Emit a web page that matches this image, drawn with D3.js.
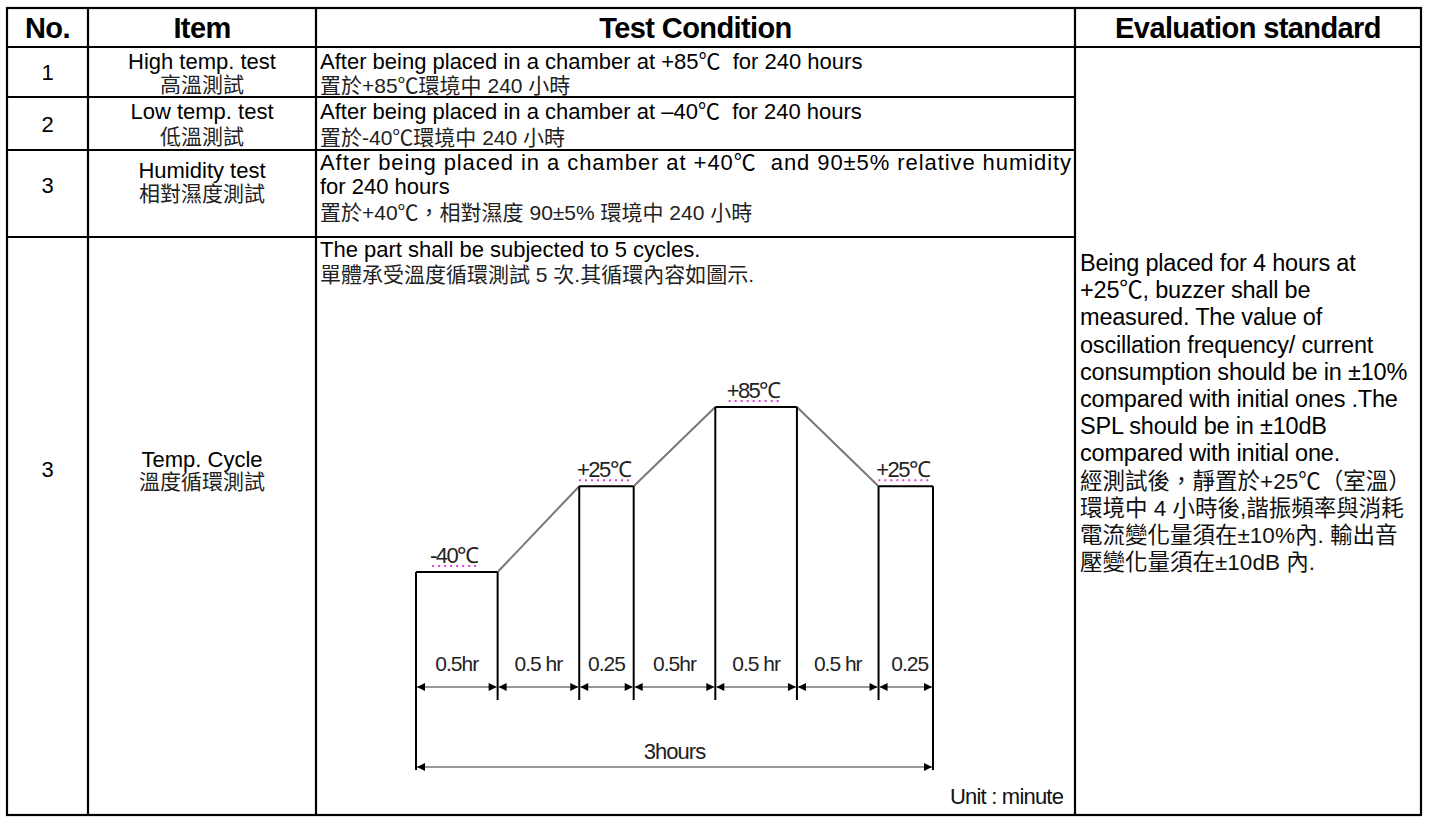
<!DOCTYPE html>
<html>
<head>
<meta charset="utf-8">
<script src="https://cdn.jsdelivr.net/npm/d3@7"></script>
<style>
  html, body { margin: 0; padding: 0; background: #fff; }
  svg { display: block; }
  text { white-space: pre; }
</style>
</head>
<body>
<svg id="chart" width="1431" height="820"></svg>
<script>
// ---------------- data ----------------
const headers = ["No.", "Item", "Test Condition", "Evaluation standard"];
const rowNumbers = ["1", "2", "3", "3"];
const itemNamesEn = ["High temp. test", "Low temp. test", "Humidity test", "Temp. Cycle"];
const itemNamesZh = ["高溫測試", "低溫測試", "相對濕度測試", "溫度循環測試"];
const conditionRow1 = ["After being placed in a chamber at +85℃  for 240 hours", "置於+85℃環境中 240 小時"];
const conditionRow2 = ["After being placed in a chamber at –40℃  for 240 hours", "置於-40℃環境中 240 小時"];
const conditionRow3 = ["After being placed in a chamber at +40℃  and 90±5% relative humidity", "for 240 hours", "置於+40℃，相對濕度 90±5% 環境中 240 小時"];
const conditionRow4 = ["The part shall be subjected to 5 cycles.", "單體承受溫度循環測試 5 次.其循環內容如圖示."];
const evaluationLines = [
  "Being placed for 4 hours at",
  "+25℃, buzzer shall be",
  "measured. The value of",
  "oscillation frequency/ current",
  "consumption should be in ±10%",
  "compared with initial ones .The",
  "SPL should be in ±10dB",
  "compared with initial one.",
  "經測試後，靜置於+25℃（室溫）",
  "環境中 4 小時後,諧振頻率與消耗",
  "電流變化量須在±10%內. 輸出音",
  "壓變化量須在±10dB 內."
];
// temperature cycle phases
const phaseMinutes = [30, 30, 15, 30, 30, 30, 15];
const phaseLabels = ["0.5hr", "0.5 hr", "0.25", "0.5hr", "0.5 hr", "0.5 hr", "0.25"];
const phaseStartTemp = [-40, -40, 25, 25, 85, 85, 25];
const phaseEndTemp   = [-40, 25, 25, 85, 85, 25, 25];
const holdLabels = ["-40℃", "+25℃", "+85℃", "+25℃"];
const holdPhaseIndex = [0, 2, 4, 6];
const totalLabel = "3hours";
const unitLabel = "Unit : minute";

// ---------------- layout ----------------
const svg = d3.select("#chart");
const colX = [7, 88, 316, 1075, 1421];
const rowY = [8, 47, 97, 150, 237, 815];
const latin = "'Liberation Sans', Arial, 'Noto Sans CJK TC', sans-serif";
const FS = 22;

// header texts
headers.forEach((h, i) => {
  svg.append("text")
    .attr("x", (colX[i] + colX[i + 1]) / 2)
    .attr("y", 38)
    .attr("text-anchor", "middle")
    .attr("font-family", latin)
    .attr("font-weight", "bold")
    .attr("font-size", 29)
    .attr("letter-spacing", -0.6)
    .text(h);
});

// No. column
const noCenters = [72, 124, 185, 469];
rowNumbers.forEach((n, i) => {
  svg.append("text").attr("x", (colX[0] + colX[1]) / 2).attr("y", noCenters[i] + 8)
    .attr("text-anchor", "middle").attr("font-family", latin).attr("font-size", FS).text(n);
});

// Item column
const itemEnY = [61, 111, 170, 459];
const itemZhY = [85, 137, 194, 482];
itemNamesEn.forEach((t, i) => {
  svg.append("text").attr("x", (colX[1] + colX[2]) / 2).attr("y", itemEnY[i] + 8)
    .attr("text-anchor", "middle").attr("font-family", latin).attr("font-size", FS)
    .text(t);
  svg.append("text").attr("x", (colX[1] + colX[2]) / 2).attr("y", itemZhY[i] + 7)
    .attr("text-anchor", "middle").attr("font-family", latin).attr("font-size", 21)
    .attr("fill", "#222").text(itemNamesZh[i]);
});

// Test condition column
const condX = colX[2] + 4;
function condLine(t, cy, zh, justify) {
  const el = svg.append("text").attr("x", condX).attr("y", cy + (zh ? 7 : 8))
    .attr("font-family", latin).attr("font-size", zh ? 21 : FS)
    .attr("fill", zh ? "#222" : "#000")
    .text(t);
  if (justify) el.attr("textLength", justify).attr("lengthAdjust", "spacing");
}
condLine(conditionRow1[0], 61, false);
condLine(conditionRow1[1], 86, true);
condLine(conditionRow2[0], 111, false);
condLine(conditionRow2[1], 138, true);
condLine(conditionRow3[0], 162, false, colX[3] - condX - 4);
condLine(conditionRow3[1], 186, false);
condLine(conditionRow3[2], 213, true);
condLine(conditionRow4[0], 249, false);
condLine(conditionRow4[1], 275, true);

// Evaluation column
evaluationLines.forEach((t, i) => {
  const zh = i >= 8;
  svg.append("text").attr("x", colX[3] + 5).attr("y", 263 + i * 27.2 + 8)
    .attr("font-family", latin).attr("font-size", zh ? 22.5 : 23.5)
    .attr("letter-spacing", zh ? 0 : -0.2)
    .attr("fill", zh ? "#111" : "#000")
    .text(t);
});

// ---------------- temperature-cycle diagram ----------------
const weights = phaseMinutes.map(m => Math.sqrt(m / 15) * (m > 15 ? 1.06 : 1));
const cum = [0, ...d3.cumsum(weights)];
const x = d3.scaleLinear().domain([0, cum[cum.length - 1]]).range([416, 933]);
const y = d3.scaleLinear().domain([-40, 85]).range([572, 407]);
const g = svg.append("g");
const diagFont = "'Liberation Sans Narrow', 'Liberation Sans', Arial, sans-serif";

// profile: holds as black lines, ramps grey
phaseMinutes.forEach((m, i) => {
  const x0 = x(cum[i]), x1 = x(cum[i + 1]);
  const hold = phaseStartTemp[i] === phaseEndTemp[i];
  g.append("line").attr("x1", x0).attr("x2", x1)
    .attr("y1", y(phaseStartTemp[i])).attr("y2", y(phaseEndTemp[i]))
    .attr("stroke", hold ? "#000" : "#777").attr("stroke-width", 2);
});

// vertical boundary lines
const innerBottom = 700, outerBottom = 770;
cum.forEach((c, i) => {
  const outer = i === 0 || i === cum.length - 1;
  const tTop = i === 0 ? phaseStartTemp[0] : phaseEndTemp[i - 1];
  g.append("line").attr("x1", x(c)).attr("x2", x(c))
    .attr("y1", y(tTop)).attr("y2", outer ? outerBottom : innerBottom)
    .attr("stroke", "#000").attr("stroke-width", 2);
});

// arrow markers
const defs = svg.append("defs");
defs.append("marker").attr("id", "ahEnd").attr("viewBox", "0 0 10 10")
  .attr("refX", 10).attr("refY", 5).attr("markerWidth", 9).attr("markerHeight", 8)
  .attr("markerUnits", "userSpaceOnUse").attr("orient", "auto")
  .append("path").attr("d", "M0,0 L10,5 L0,10 z").attr("fill", "#000");
defs.append("marker").attr("id", "ahStart").attr("viewBox", "0 0 10 10")
  .attr("refX", 0).attr("refY", 5).attr("markerWidth", 9).attr("markerHeight", 8)
  .attr("markerUnits", "userSpaceOnUse").attr("orient", "auto")
  .append("path").attr("d", "M10,0 L0,5 L10,10 z").attr("fill", "#000");

// segment dimension arrows + labels
phaseMinutes.forEach((m, i) => {
  const x0 = x(cum[i]) + 1, x1 = x(cum[i + 1]) - 1;
  g.append("line").attr("x1", x0).attr("x2", x1).attr("y1", 687).attr("y2", 687)
    .attr("stroke", "#777").attr("stroke-width", 1.6)
    .attr("marker-start", "url(#ahStart)").attr("marker-end", "url(#ahEnd)");
  g.append("text").attr("x", (x(cum[i]) + x(cum[i + 1])) / 2 + (i === phaseMinutes.length - 1 ? 4 : 0))
    .attr("y", 671).attr("text-anchor", "middle")
    .attr("font-family", diagFont).attr("font-size", 21).attr("letter-spacing", -1)
    .attr("fill", "#222").text(phaseLabels[i]);
});

// total arrow
g.append("line").attr("x1", x(0) + 1).attr("x2", x(cum[cum.length - 1]) - 1)
  .attr("y1", 767).attr("y2", 767).attr("stroke", "#777").attr("stroke-width", 1.6)
  .attr("marker-start", "url(#ahStart)").attr("marker-end", "url(#ahEnd)");
g.append("text").attr("x", (x(0) + x(cum[cum.length - 1])) / 2).attr("y", 759)
  .attr("text-anchor", "middle").attr("font-family", diagFont).attr("font-size", 22)
  .attr("letter-spacing", -1).attr("fill", "#222").text(totalLabel);

// hold temperature labels with dotted underline
holdLabels.forEach((t, k) => {
  const i = holdPhaseIndex[k];
  const cx = (x(cum[i]) + x(cum[i + 1])) / 2 - 3;
  const ty = y(phaseStartTemp[i]);
  const txt = g.append("text").attr("x", cx).attr("y", ty - 9)
    .attr("text-anchor", "middle").attr("font-family", diagFont).attr("font-size", 22)
    .attr("letter-spacing", -1.6).attr("fill", "#222").text(t);
  const w = txt.node().getComputedTextLength();
  g.append("line").attr("x1", cx - w / 2 + 2).attr("x2", cx + w / 2 + 2)
    .attr("y1", ty - 6).attr("y2", ty - 6)
    .attr("stroke", "#e040e0").attr("stroke-width", 2).attr("stroke-dasharray", "2,4");
});

g.append("text").attr("x", 950).attr("y", 804)
  .attr("font-family", diagFont).attr("font-size", 22).attr("letter-spacing", -0.8)
  .attr("fill", "#111").text(unitLabel);

// ---------------- grid lines ----------------
const grid = svg.append("g").attr("stroke", "#000").attr("stroke-width", 2.2).attr("fill", "none");
grid.append("rect").attr("x", colX[0]).attr("y", rowY[0])
  .attr("width", colX[4] - colX[0]).attr("height", rowY[5] - rowY[0]);
colX.slice(1, 4).forEach(cx => grid.append("line").attr("x1", cx).attr("x2", cx).attr("y1", rowY[0]).attr("y2", rowY[5]));
grid.append("line").attr("x1", colX[0]).attr("x2", colX[4]).attr("y1", rowY[1]).attr("y2", rowY[1]);
rowY.slice(2, 5).forEach(ry => grid.append("line").attr("x1", colX[0]).attr("x2", colX[3]).attr("y1", ry).attr("y2", ry));
</script>
</body>
</html>
